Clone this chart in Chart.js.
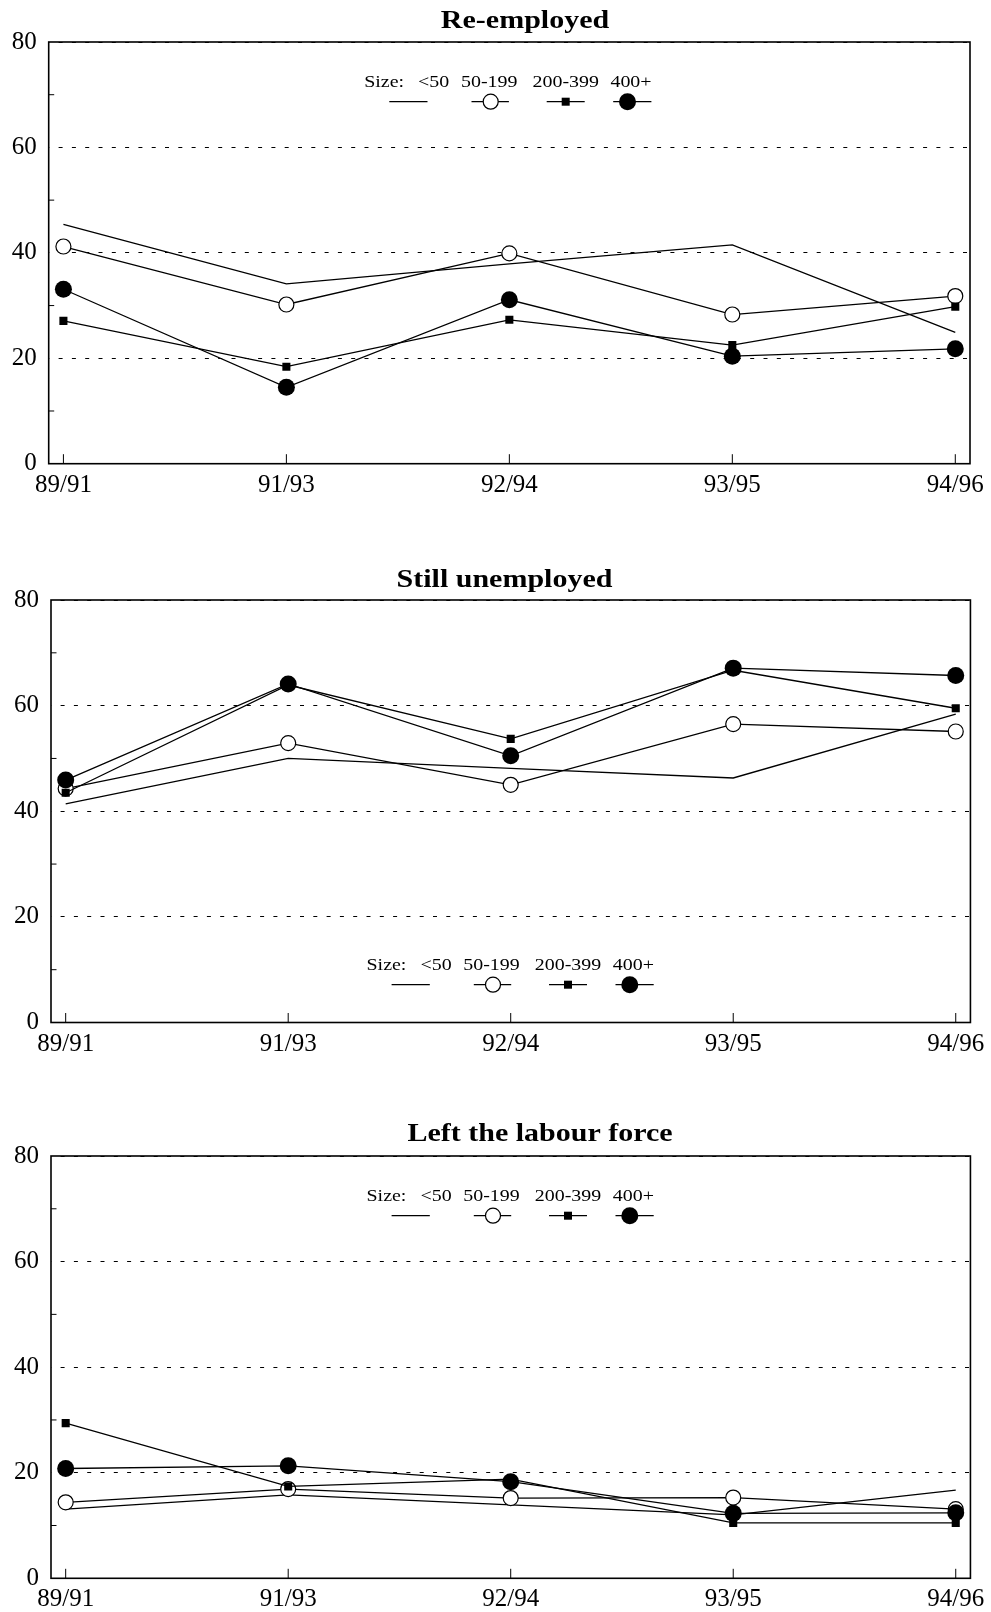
<!DOCTYPE html>
<html>
<head>
<meta charset="utf-8">
<script src="https://cdn.jsdelivr.net/npm/chart.js@4.4.1/dist/chart.umd.min.js"></script>
<style>
html,body{margin:0;padding:0;background:#fff;}
body{width:991px;height:1612px;position:relative;overflow:hidden;}
canvas{position:absolute;left:0;}
.fontprobe{position:absolute;left:-9999px;top:0;font-family:"Liberation Serif";}
</style>
</head>
<body>
<span class="fontprobe">Re-employed 0123456789</span>
<span class="fontprobe" style="font-weight:bold">Re-employed 0123456789</span>
<canvas id="c1" width="991" height="530" style="top:0px;width:991px;height:530px"></canvas>
<canvas id="c2" width="991" height="540" style="top:540px;width:991px;height:540px"></canvas>
<canvas id="c3" width="991" height="522" style="top:1090px;width:991px;height:522px"></canvas>
<script>
// ---------- DATA ----------
const periods = ['89/91', '91/93', '92/94', '93/95', '94/96'];
const sizeLabels = ['<50', '50-199', '200-399', '400+'];
const legendPrefix = 'Size:';
const panelTitles = ['Re-employed', 'Still unemployed', 'Left the labour force'];
const yTickValues = [0, 20, 40, 60, 80];
const yMinorTicks = [10, 30, 50, 70];

const reemployedLt50   = [45.4, 34.1, 37.9, 41.5, 24.9];
const reemployed50to199  = [41.2, 30.2, 39.9, 28.3, 31.8];
const reemployed200to399 = [27.1, 18.4, 27.3, 22.5, 29.8];
const reemployed400plus  = [33.1, 14.5, 31.1, 20.4, 21.8];

const stillLt50     = [41.4, 50.0, 48.1, 46.3, 58.4];
const still50to199  = [44.3, 52.9, 45.0, 56.5, 55.1];
const still200to399 = [43.5, 63.9, 53.7, 66.7, 59.5];
const still400plus  = [45.9, 64.1, 50.5, 67.1, 65.7];

const leftLt50     = [13.1, 15.8, 13.9, 12.0, 16.7];
const left50to199  = [14.4, 16.9, 15.2, 15.3, 13.1];
const left200to399 = [29.4, 17.4, 18.8, 10.5, 10.5];
const left400plus  = [20.8, 21.3, 18.3, 12.3, 12.4];

// ---------- STYLES / LAYOUT ----------
const FONT = '"Liberation Serif", Tinos, "Times New Roman", Times, serif';
const sizeStyles = [
  { pointRadius: 0 },
  { pointStyle: 'circle', pointRadius: 7.5, pointBackgroundColor: '#fff', pointBorderColor: '#000', pointBorderWidth: 1.2 },
  { pointStyle: 'rect', pointRadius: 5.7, pointBackgroundColor: '#000', pointBorderColor: '#000', pointBorderWidth: 0 },
  { pointStyle: 'circle', pointRadius: 8.5, pointBackgroundColor: '#000', pointBorderColor: '#000', pointBorderWidth: 0 }
];

const panels = [
  { id: 'c1', title: panelTitles[0], series: [reemployedLt50, reemployed50to199, reemployed200to399, reemployed400plus],
    canvasTop: 0, pad: { top: 42, right: 21, bottom: 26.3, left: 0 }, yWidth: 48.7, xHeight: 40,
    titleX: 525, titleBase: 28.3, legend: 'top' },
  { id: 'c2', title: panelTitles[1], series: [stillLt50, still50to199, still200to399, still400plus],
    canvasTop: 540, pad: { top: 60, right: 17.7, bottom: 17.5, left: 0 }, yWidth: 51, xHeight: 40,
    titleX: 504.5, titleBase: 586.7, legend: 'bottom' },
  { id: 'c3', title: panelTitles[2], series: [leftLt50, left50to199, left200to399, left400plus],
    canvasTop: 1090, pad: { top: 66, right: 17.7, bottom: 3.7, left: 0 }, yWidth: 51, xHeight: 30,
    titleX: 540, titleBase: 1140.7, legend: 'top' }
];

function stretchedText(ctx, text, x, y, sx, align) {
  ctx.save();
  ctx.translate(x, y);
  ctx.scale(sx, 1);
  ctx.textAlign = align;
  ctx.textBaseline = 'alphabetic';
  ctx.fillText(text, 0, 0);
  ctx.restore();
}

function makeDeco(p) {
  return {
    id: 'deco_' + p.id,
    afterDraw(chart) {
      const ctx = chart.ctx;
      const a = chart.chartArea;
      const xs = chart.scales.x, ys = chart.scales.y;
      ctx.save();
      ctx.strokeStyle = '#000';
      ctx.fillStyle = '#000';
      // frame
      ctx.lineWidth = 1.6;
      ctx.strokeRect(a.left, a.top, a.right - a.left, a.bottom - a.top);
      ctx.lineWidth = 1;
      ctx.beginPath();
      yMinorTicks.forEach(v => {
        const y = ys.getPixelForValue(v);
        ctx.moveTo(a.left, y); ctx.lineTo(a.left + 5.5, y);
      });
      periods.forEach((_, i) => {
        const x = xs.getPixelForValue(i);
        ctx.moveTo(x, a.bottom); ctx.lineTo(x, a.bottom - 9.5);
      });
      ctx.stroke();

      // title
      ctx.font = 'bold 25px ' + FONT;
      stretchedText(ctx, p.title, p.titleX, p.titleBase - p.canvasTop, 1.2, 'center');

      // legend
      const L = a.left;
      const base = p.legend === 'top' ? a.top + 45 : a.bottom - 52.5;
      const sy = base + 14.7;
      ctx.font = '17.5px ' + FONT;
      stretchedText(ctx, legendPrefix, L + 315.5, base, 1.14, 'left');
      const labelCenters = [385, 440.5, 517, 582.3];
      sizeLabels.forEach((t, i) => stretchedText(ctx, t, L + labelCenters[i], base, 1.14, 'center'));

      ctx.lineWidth = 1.3;
      ctx.beginPath();
      ctx.moveTo(L + 340.6, sy); ctx.lineTo(L + 378.8, sy);
      ctx.moveTo(L + 422.8, sy); ctx.lineTo(L + 460.2, sy);
      ctx.moveTo(L + 498, sy); ctx.lineTo(L + 536, sy);
      ctx.moveTo(L + 564.5, sy); ctx.lineTo(L + 602.7, sy);
      ctx.stroke();
      ctx.beginPath();
      ctx.arc(L + 442, sy, 7.5, 0, Math.PI * 2);
      ctx.fillStyle = '#fff'; ctx.fill();
      ctx.lineWidth = 1.2;
      ctx.strokeStyle = '#000'; ctx.stroke();
      ctx.fillStyle = '#000';
      ctx.fillRect(L + 517 - 4, sy - 4, 8, 8);
      ctx.beginPath();
      ctx.arc(L + 578.8, sy, 8.5, 0, Math.PI * 2);
      ctx.fill();
      ctx.restore();
    }
  };
}

function build() {
  panels.forEach(p => {
    const datasets = p.series.map((vals, i) => Object.assign({
      label: sizeLabels[i],
      data: vals.map((v, k) => ({ x: k, y: v })),
      borderColor: '#000',
      borderWidth: 1.3,
      tension: 0,
      fill: false,
      order: 3 - i
    }, sizeStyles[i], { pointHoverRadius: sizeStyles[i].pointRadius }));

    new Chart(document.getElementById(p.id), {
      type: 'line',
      data: { datasets },
      options: {
        responsive: false,
        animation: false,
        events: [],
        layout: { padding: p.pad },
        plugins: { legend: { display: false }, title: { display: false }, tooltip: { enabled: false } },
        scales: {
          x: {
            type: 'linear',
            min: -0.066,
            max: 4.066,
            afterFit(s) { s.height = p.xHeight; },
            grid: { display: false, drawTicks: false },
            border: { display: false },
            ticks: {
              stepSize: 1,
              includeBounds: false,
              autoSkip: false,
              maxRotation: 0,
              padding: 6.5,
              color: '#000',
              font: { family: FONT, size: 25 },
              callback: v => Number.isInteger(v) ? periods[v] : ''
            }
          },
          y: {
            min: 0,
            max: 80,
            afterFit(s) { s.width = p.yWidth; },
            afterBuildTicks(s) { s.ticks = yTickValues.map(v => ({ value: v })); },
            grid: { color: '#000', lineWidth: 1, drawTicks: false, borderDash: [4, 9.3] },
            border: { display: false, dash: [4, 9.3], dashOffset: 3.7 },
            ticks: {
              padding: 12,
              color: '#000',
              font: { family: FONT, size: 25 }
            }
          }
        }
      },
      plugins: [makeDeco(p)]
    });
  });
}

let built = false;
function buildOnce() { if (!built) { built = true; build(); } }
if (document.fonts && document.fonts.load) {
  Promise.all([
    document.fonts.load('25px "Liberation Serif"'),
    document.fonts.load('bold 25px "Liberation Serif"')
  ]).then(buildOnce, buildOnce);
  setTimeout(buildOnce, 1500);
} else {
  buildOnce();
}
</script>
</body>
</html>
